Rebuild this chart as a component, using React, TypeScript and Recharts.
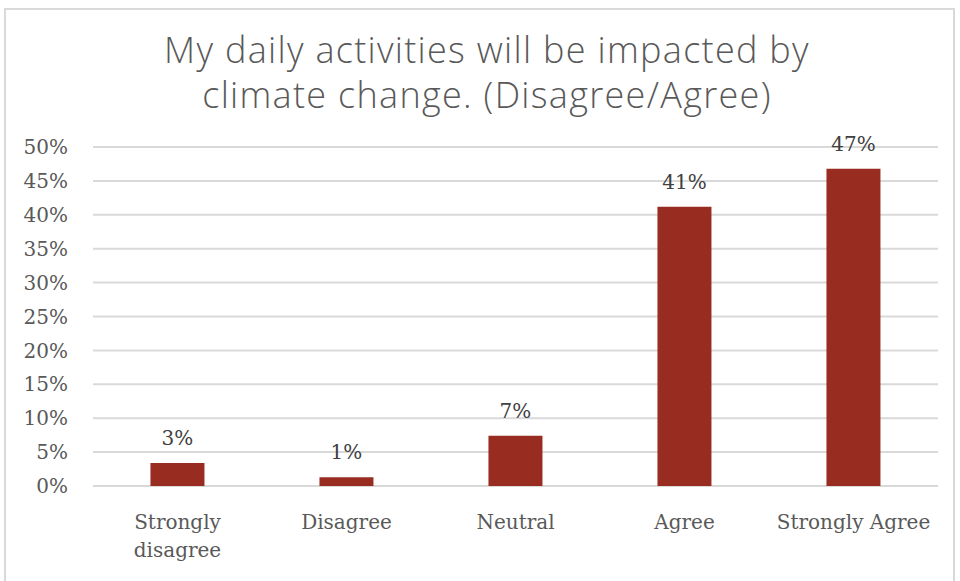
import React from 'react';
import { BarChart, Bar, XAxis, YAxis, CartesianGrid, LabelList } from 'recharts';

const CATEGORIES = ['Strongly\ndisagree', 'Disagree', 'Neutral', 'Agree', 'Strongly Agree'];
const SHARES = [3.4, 1.3, 7.4, 41.2, 46.8];
const Y_TICKS = [0, 5, 10, 15, 20, 25, 30, 35, 40, 45, 50];
const TITLE_LINES = ['My daily activities will be impacted by', 'climate change. (Disagree/Agree)'];

const data = CATEGORIES.map((c, i) => ({ name: c, value: SHARES[i] }));

const SERIF = '"DejaVu Serif", "Liberation Serif", serif';
const TEXT_COLOR = '#595959';

// category labels may carry an explicit line break
const CategoryTick = (props: any) => {
  const { x, y, payload } = props;
  const lines = String(payload.value).split('\n');
  return (
    <text x={x} y={y} textAnchor="middle" fill={TEXT_COLOR} fontFamily={SERIF} fontSize={20}>
      {lines.map((l, i) => (
        <tspan key={i} x={x} dy={i === 0 ? 35 : 28}>
          {l}
        </tspan>
      ))}
    </text>
  );
};

export default function App() {
  return (
    <div style={{ position: 'absolute', left: 0, top: 0, width: 960, height: 581, background: '#fff', overflow: 'hidden' }}>
      <div
        style={{
          position: 'absolute',
          left: 4,
          top: 8,
          width: 951,
          height: 590,
          border: '2px solid #d9d9d9',
          boxSizing: 'border-box',
        }}
      />
      <div
        style={{
          position: 'absolute',
          left: 0,
          top: 27,
          width: 974,
          textAlign: 'center',
          fontFamily: '"Open Sans", sans-serif',
          fontWeight: 300,
          fontSize: 36,
          letterSpacing: 1.3,
          lineHeight: '45px',
          color: TEXT_COLOR,
        }}
      >
        {TITLE_LINES.map((t) => (
          <div key={t}>{t}</div>
        ))}
      </div>
      <div style={{ position: 'absolute', left: 0, top: 0 }}>
        <BarChart
          width={960}
          height={581}
          data={data}
          margin={{ top: 147, right: 22, bottom: 15, left: 0 }}
          barCategoryGap="34%"
        >
          <CartesianGrid vertical={false} stroke="#d9d9d9" strokeWidth={2} />
          <XAxis
            dataKey="name"
            axisLine={false}
            tickLine={false}
            tick={<CategoryTick />}
            height={80}
            interval={0}
          />
          <YAxis
            domain={[0, 50]}
            ticks={Y_TICKS}
            tickFormatter={(v: number) => `${v}%`}
            axisLine={false}
            tickLine={false}
            tickSize={0}
            tickMargin={25}
            width={93}
            tick={{ fill: TEXT_COLOR, fontFamily: SERIF, fontSize: 20 }}
          />
          <Bar dataKey="value" fill="#992C20" isAnimationActive={false}>
            <LabelList
              dataKey="value"
              position="top"
              offset={18}
              formatter={(v: any) => `${Math.round(Number(v))}%`}
              style={{ fill: '#404040', fontFamily: SERIF, fontSize: 20 }}
            />
          </Bar>
        </BarChart>
      </div>
    </div>
  );
}
